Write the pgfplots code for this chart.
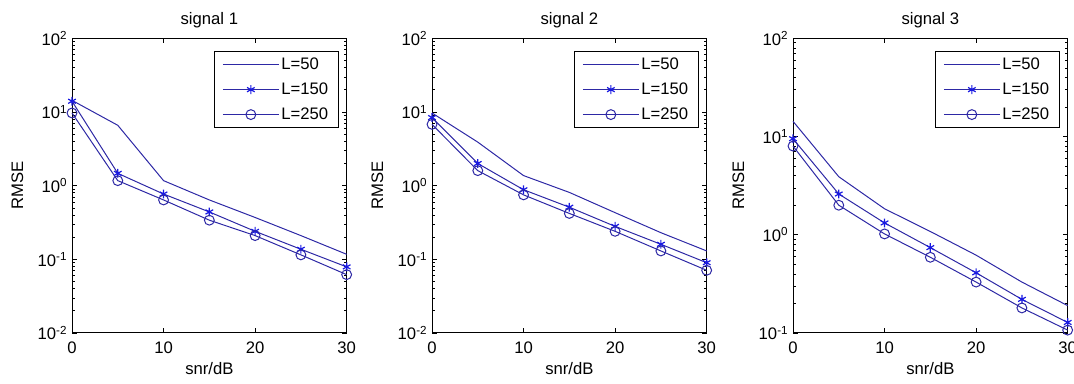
\documentclass[border=0pt]{standalone}
\usepackage{pgfplots}
\usepackage{pgfplotstable}
\pgfplotsset{compat=1.18}
\usepackage{fontspec}
\setmainfont{Liberation Sans}
\definecolor{mblue}{RGB}{45,40,165}
\definecolor{sblue}{RGB}{25,25,225}

\pgfplotstableread{
snr L50 L150 L250
0 14.4 14.0 9.7
5 6.6 1.47 1.17
10 1.17 0.77 0.64
15 0.64 0.44 0.34
20 0.37 0.24 0.21
25 0.21 0.137 0.115
30 0.117 0.079 0.062
}\sigone
\pgfplotstableread{
snr L50 L150 L250
0 9.7 8.4 6.8
5 3.9 2.0 1.6
10 1.37 0.88 0.75
15 0.81 0.51 0.42
20 0.43 0.28 0.24
25 0.23 0.16 0.13
30 0.13 0.09 0.071
}\sigtwo
\pgfplotstableread{
snr L50 L150 L250
0 14.3 9.5 8.0
5 3.9 2.6 2.0
10 1.84 1.32 1.02
15 1.08 0.74 0.59
20 0.62 0.41 0.33
25 0.33 0.22 0.18
30 0.19 0.128 0.107
}\sigthree

\pgfplotsset{
  legend image code/.code={\draw[mblue, line width=0.75pt, mark repeat=2,mark phase=2,#1] plot coordinates {(0pt,0pt) (21pt,0pt) (42pt,0pt)};},
  s50/.style={mblue, no markers},
  s150/.style={mblue, mark=asterisk, mark size=3.3pt, mark options={sblue, line width=0.9pt}},
  s250/.style={mblue, mark=o, mark size=3.7pt, mark options={mblue, line width=0.75pt}},
}

\begin{document}
\begin{tikzpicture}
\pgfplotsset{
  every axis/.append style={
    scale only axis, width=206pt, height=221pt,
    xmin=0, xmax=30, xtick={0,10,20,30},
    /pgf/number format/assume math mode=true,
    font=\fontsize{12.5}{14}\selectfont,
    tick label style={font=\fontsize{12.5}{14}\selectfont},
    major tick length=3.5pt, minor tick length=2pt,
    tick style={black, line width=0.5pt},
    axis line style={line width=0.75pt},
    clip=false,
    title style={at={(axis description cs:0.5,1)}, anchor=base, yshift=4.5pt, font=\fontsize{12.5}{14}\selectfont},
    xlabel style={at={(axis description cs:0.5,0)}, anchor=base, yshift=-31.5pt},
    ylabel style={at={(axis description cs:-0.199,0.5)}, anchor=center},
    xticklabel style={anchor=base, yshift=-15.75pt},
    xlabel={snr/dB}, ylabel={RMSE},
    legend style={at={(axis description cs:1,1)}, anchor=north east, xshift=-6pt, yshift=-9.75pt,
      draw=black, line width=0.75pt, inner xsep=6pt, inner ysep=3pt,
      font=\fontsize{12.5}{14}\selectfont, row sep=5.5pt,
      nodes={inner sep=1.5pt}},
    legend cell align=left,
  },
  every axis plot/.append style={line width=0.75pt},
}
\useasboundingbox (0,0) rectangle (805.5pt,288pt);
\begin{semilogyaxis}[at={(54pt,38.25pt)}, anchor=south west,
  title={signal 1}, ymin=1e-2, ymax=1e2,
  ytick={1e-2,1e-1,1,10,100},
  yticklabels={10\textsuperscript{-2},10\textsuperscript{-1},10\textsuperscript{0},10\textsuperscript{1},10\textsuperscript{2}},
  minor ytick={0.02,0.03,0.04,0.05,0.06,0.07,0.08,0.09,0.2,0.3,0.4,0.5,0.6,0.7,0.8,0.9,2,3,4,5,6,7,8,9,20,30,40,50,60,70,80,90}]
\addplot[s50] table[x=snr,y=L50] {\sigone};
\addplot[s150] table[x=snr,y=L150] {\sigone};
\addplot[s250] table[x=snr,y=L250] {\sigone};
\legend{L=50,L=150,L=250}
\end{semilogyaxis}
\begin{semilogyaxis}[at={(324pt,38.25pt)}, anchor=south west,
  title={signal 2}, ymin=1e-2, ymax=1e2,
  ytick={1e-2,1e-1,1,10,100},
  yticklabels={10\textsuperscript{-2},10\textsuperscript{-1},10\textsuperscript{0},10\textsuperscript{1},10\textsuperscript{2}},
  minor ytick={0.02,0.03,0.04,0.05,0.06,0.07,0.08,0.09,0.2,0.3,0.4,0.5,0.6,0.7,0.8,0.9,2,3,4,5,6,7,8,9,20,30,40,50,60,70,80,90}]
\addplot[s50] table[x=snr,y=L50] {\sigtwo};
\addplot[s150] table[x=snr,y=L150] {\sigtwo};
\addplot[s250] table[x=snr,y=L250] {\sigtwo};
\legend{L=50,L=150,L=250}
\end{semilogyaxis}
\begin{semilogyaxis}[at={(594.75pt,38.25pt)}, anchor=south west,
  title={signal 3}, ymin=1e-1, ymax=1e2,
  ytick={1e-1,1,10,100},
  yticklabels={10\textsuperscript{-1},10\textsuperscript{0},10\textsuperscript{1},10\textsuperscript{2}},
  minor ytick={0.2,0.3,0.4,0.5,0.6,0.7,0.8,0.9,2,3,4,5,6,7,8,9,20,30,40,50,60,70,80,90}]
\addplot[s50] table[x=snr,y=L50] {\sigthree};
\addplot[s150] table[x=snr,y=L150] {\sigthree};
\addplot[s250] table[x=snr,y=L250] {\sigthree};
\legend{L=50,L=150,L=250}
\end{semilogyaxis}
\end{tikzpicture}
\end{document}
